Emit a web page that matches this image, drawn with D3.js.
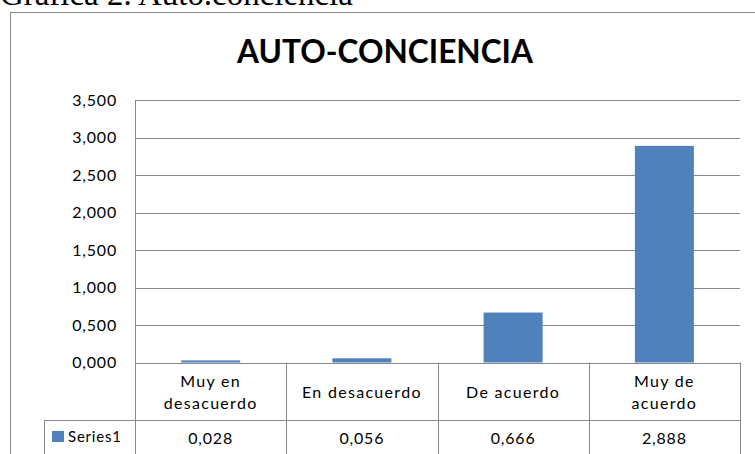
<!DOCTYPE html>
<meta charset="utf-8">
<html>
<head>
	<script src="https://d3js.org/d3.v7.min.js"></script>
</head>
<body style="margin:0; background:#fff;">
<div id="chart"></div>
<script>

var categorias = ["Muy en|desacuerdo", "En desacuerdo", "De acuerdo", "Muy de|acuerdo"];
var serie1 = [0.028, 0.056, 0.666, 2.888];
var ticksY = [0, 0.5, 1, 1.5, 2, 2.5, 3, 3.5];
var nomeSerie = "Series1";

var W = 755, H = 454;
var font = "Lato, 'Open Sans', sans-serif";
var grigio = "#878787";

var svg = d3.select("#chart").append("svg")
    .attr("width", W).attr("height", H);

// adatta la dimensione del font ad una larghezza voluta
function adatta(t, larg) {
    var l = t.node().getComputedTextLength();
    var fs = parseFloat(t.style("font-size"));
    t.style("font-size", (fs * larg / l) + "px");
}

// didascalia sopra il grafico (tagliata in alto)
var didasc = svg.append("text")
    .attr("x", 0).attr("y", 5)
    .style("font-family", "'Liberation Serif', serif")
    .style("font-size", "28px")
    .text("Gráfica 2. Auto.conciencia");
adatta(didasc, 353);

// cornice
svg.append("rect")
    .attr("x", 10.5).attr("y", 12.5)
    .attr("width", 760).attr("height", 460)
    .attr("fill", "#fff").attr("stroke", grigio);

var titolo = svg.append("text")
    .attr("x", 385).attr("y", 63)
    .attr("text-anchor", "middle")
    .style("font-family", font)
    .style("font-weight", "bold")
    .style("font-size", "28px")
    .text("AUTO-CONCIENCIA");
adatta(titolo, 296);

var sx = 135, dx = 740, alto = 100, basso = 362.5;

var x = d3.scaleBand().domain(d3.range(categorias.length))
    .range([sx, dx]).paddingInner(0).paddingOuter(0);
var y = d3.scaleLinear().domain([0, 3.5]).range([basso, alto]);

var fmt = function(v) { return d3.format(".3f")(v).replace(".", ","); };

// griglia
svg.append("g").selectAll("line").data(ticksY).enter().append("line")
    .attr("x1", sx).attr("x2", dx)
    .attr("y1", function(d) { return Math.round(y(d)) + 0.5; })
    .attr("y2", function(d) { return Math.round(y(d)) + 0.5; })
    .attr("stroke", grigio);

// le etichette dell'asse usano la virgola
var asseY = d3.axisLeft(y).tickValues(ticksY).tickSize(0).tickPadding(18)
    .tickFormat(function(d) { return d3.format(".3f")(d).replace(".", ","); });
svg.append("g").attr("transform", "translate(" + sx + ",0)")
    .call(asseY)
    .call(function(g) { g.select(".domain").remove(); })
    .selectAll("text")
    .style("font-family", font).style("font-size", "16px")
    .style("letter-spacing", "0.8px").attr("fill", "#000");

// barre
var bw = 59;
svg.append("g").selectAll("rect").data(serie1).enter().append("rect")
    .attr("x", function(d, i) { return x(i) + x.bandwidth() / 2 - bw / 2; })
    .attr("y", function(d) { return y(d); })
    .attr("width", bw)
    .attr("height", function(d) { return basso - y(d); })
    .attr("fill", "#4F81BD");

// tabella dati
var rigaCat = 420.5;
var tab = svg.append("g").attr("stroke", grigio).attr("fill", "none");
tab.append("line").attr("x1", sx + 0.5).attr("x2", sx + 0.5).attr("y1", alto).attr("y2", H);
d3.range(1, categorias.length + 1).forEach(function(i) {
    var xx = Math.round(i < categorias.length ? x(i) : dx) + 0.5;
    tab.append("line").attr("x1", xx).attr("x2", xx).attr("y1", basso).attr("y2", H);
});
tab.append("line").attr("x1", 44).attr("x2", dx).attr("y1", rigaCat).attr("y2", rigaCat);
tab.append("line").attr("x1", 44.5).attr("x2", 44.5).attr("y1", rigaCat).attr("y2", H);

categorias.forEach(function(c, i) {
    var righe = c.split("|");
    var cx = x(i) + x.bandwidth() / 2;
    var t = svg.append("text").attr("text-anchor", "middle")
        .style("font-family", font).style("font-size", "16px")
        .style("letter-spacing", "1.3px").attr("fill", "#000");
    righe.forEach(function(r, k) {
        var yy = righe.length === 1 ? 398 : 387 + k * 22;
        t.append("tspan").attr("x", cx).attr("y", yy).text(r);
    });
    svg.append("text").attr("x", cx).attr("y", 444)
        .attr("text-anchor", "middle")
        .style("font-family", font).style("font-size", "16px")
        .style("letter-spacing", "0.8px")
        .text(fmt(serie1[i]));
});

// legenda
svg.append("rect").attr("x", 52).attr("y", 431).attr("width", 12).attr("height", 11).attr("fill", "#4F81BD");
svg.append("text").attr("x", 68).attr("y", 442)
    .style("font-family", font).style("font-size", "15px")
    .style("letter-spacing", "0.8px")
    .text(nomeSerie);

</script>
</body>
</html>
